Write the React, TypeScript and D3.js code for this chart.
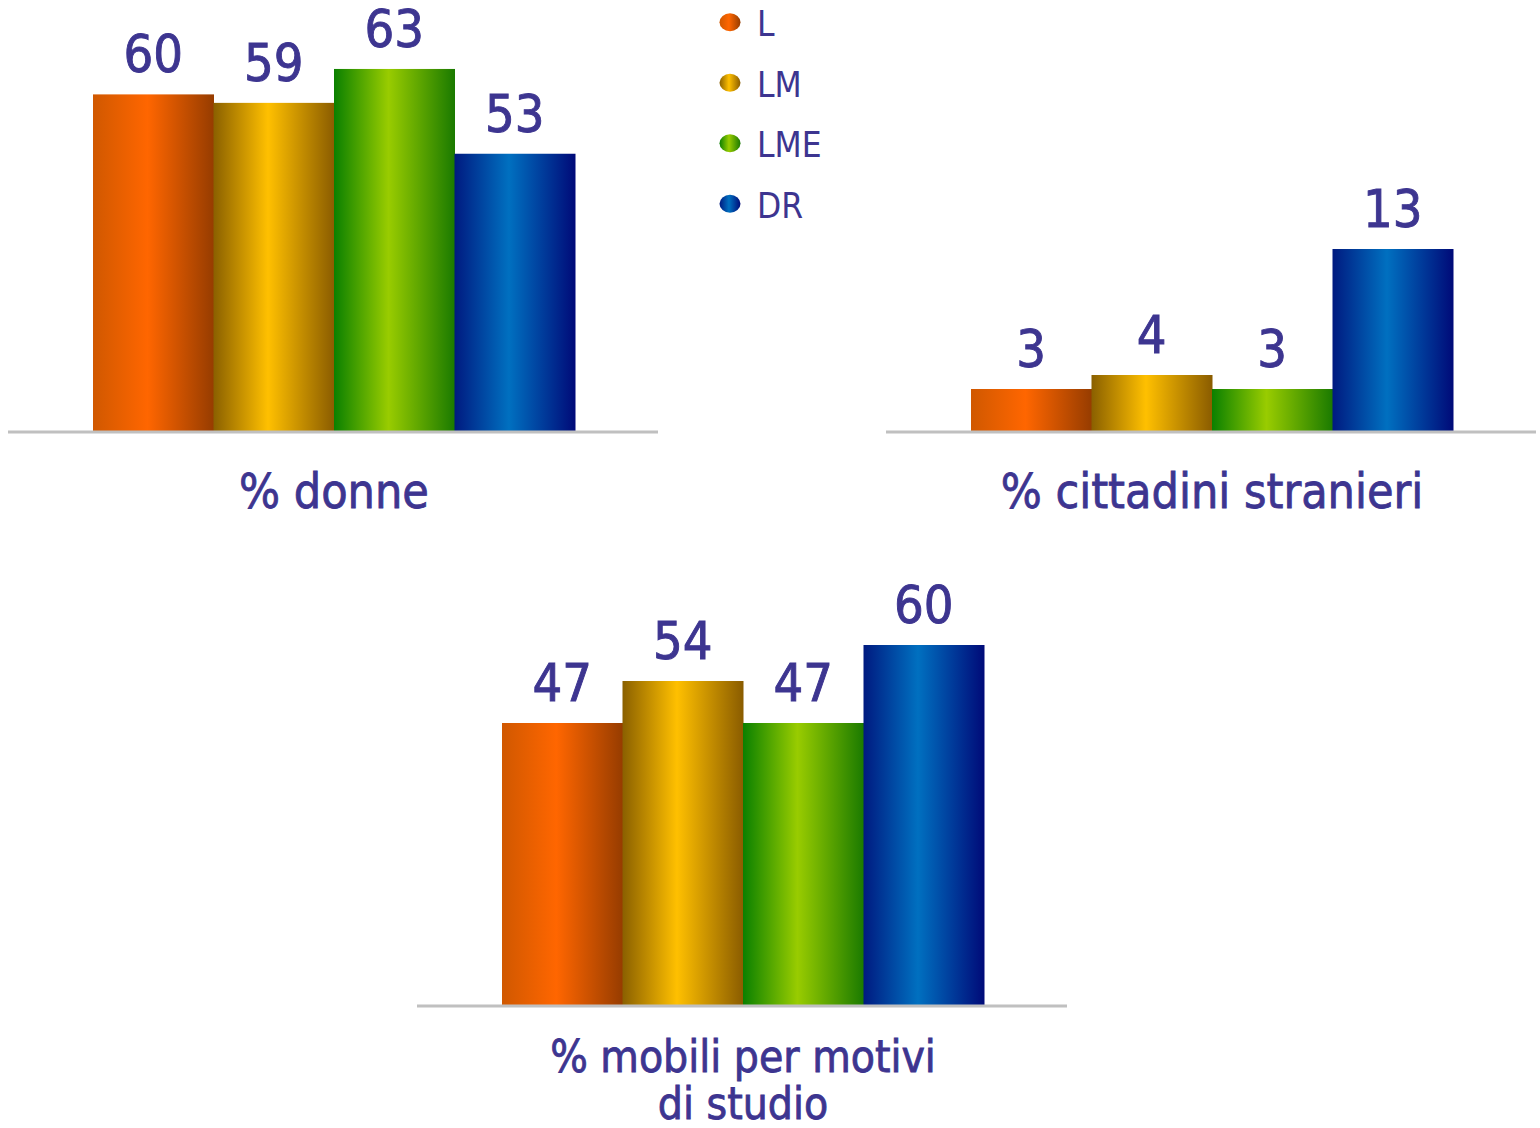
import React from "react";
import * as d3 from "d3";

const categories = ["L", "LM", "LME", "DR"];
const donneValues = [60, 59, 63, 53];
const stranieriValues = [3, 4, 3, 13];
const mobiliValues = [47, 54, 47, 60];
const chartTitles = [["% donne"], ["% cittadini stranieri"], ["% mobili per motivi", "di studio"]];

const gradientStops: Record<string, [string, string, string]> = {
  L: ["#d05800", "#ff6600", "#963c00"],
  LM: ["#8a6000", "#ffc000", "#8a5c00"],
  LME: ["#0a8000", "#99cc00", "#1a7a00"],
  DR: ["#001a80", "#0070c0", "#000a78"],
};

const TEXT = "#3d3590";
const FONT = "'DejaVu Sans Condensed', 'DejaVu Sans', sans-serif";

type Panel = {
  values: number[];
  title: string[];
  x0: number;
  baseY: number;
  domain: [number, number];
  top: number;
};

const panels: Panel[] = [
  { values: donneValues, title: chartTitles[0], x0: 8, baseY: 431, domain: [20.3, 65], top: 52 },
  { values: stranieriValues, title: chartTitles[1], x0: 886, baseY: 431, domain: [0, 14], top: 235 },
  { values: mobiliValues, title: chartTitles[2], x0: 417, baseY: 1005, domain: [0, 60], top: 645 },
];

const AXIS_W = 650;

function PanelChart({ p, idx }: { p: Panel; idx: number }) {
  const x = d3.scaleBand<string>().domain(categories).range([p.x0 + 85, p.x0 + 567]).padding(0);
  const y = d3.scaleLinear().domain(p.domain).range([p.baseY, p.top]);
  const cx = p.x0 + AXIS_W / 2 + 1;
  return (
    <g>
      {categories.map((c, i) => (
        <rect
          key={c}
          x={x(c)}
          y={y(p.values[i])}
          width={x.bandwidth() + 0.5}
          height={p.baseY - y(p.values[i])}
          fill={`url(#grad-${c})`}
        />
      ))}
      <line x1={p.x0} x2={p.x0 + AXIS_W} y1={p.baseY + 1} y2={p.baseY + 1} stroke="#c0c0c0" strokeWidth={3} />
      {categories.map((c, i) => (
        <text
          key={c}
          x={(x(c) as number) + x.bandwidth() / 2}
          y={y(p.values[i]) - 22}
          textAnchor="middle"
          fontFamily={FONT}
          fontSize={52}
          fill={TEXT}
          stroke={TEXT}
          strokeWidth={0.9}
        >
          {p.values[i]}
        </text>
      ))}
      {p.title.map((t, j) => (
        <text
          key={j}
          x={cx}
          y={idx === 2 ? 1072 + j * 47 : 508}
          textAnchor="middle"
          fontFamily={FONT}
          fontSize={idx === 2 ? 44 : 48}
          fill={TEXT}
          stroke={TEXT}
          strokeWidth={0.8}
        >
          {t}
        </text>
      ))}
    </g>
  );
}

export default function App() {
  const legendY = d3.scaleBand<string>().domain(categories).range([-8, 234]);
  return (
    <svg
      width={1540}
      height={1128}
      style={{ position: "absolute", left: 0, top: 0, display: "block", background: "#fff" }}
    >
      <defs>
        {categories.map((c) => (
          <linearGradient key={c} id={`grad-${c}`} x1="0" x2="1" y1="0" y2="0">
            <stop offset="0%" stopColor={gradientStops[c][0]} />
            <stop offset="45%" stopColor={gradientStops[c][1]} />
            <stop offset="100%" stopColor={gradientStops[c][2]} />
          </linearGradient>
        ))}
      </defs>
      <rect x={0} y={0} width={1540} height={1128} fill="#fff" />
      {panels.map((p, i) => (
        <PanelChart key={i} p={p} idx={i} />
      ))}
      {categories.map((c) => {
        const cy = (legendY(c) as number) + legendY.bandwidth() / 2;
        return (
          <g key={c}>
            <ellipse cx={730} cy={cy} rx={10.5} ry={9} fill={`url(#grad-${c})`} />
            <text x={757} y={cy + 14} fontFamily={FONT} fontSize={35} fill={TEXT}>
              {c}
            </text>
          </g>
        );
      })}
    </svg>
  );
}
